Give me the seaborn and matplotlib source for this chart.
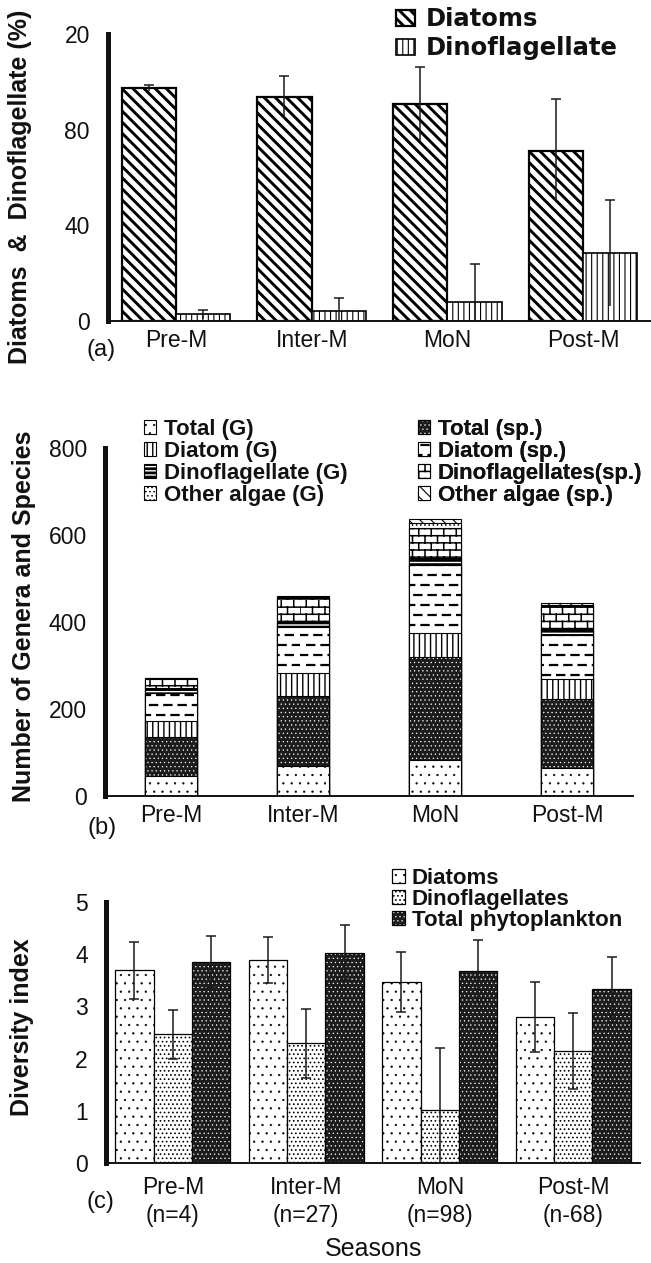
import numpy as np
import pandas as pd
import matplotlib
matplotlib.use("Agg")
import matplotlib.pyplot as plt
import matplotlib.colors as mcolors
import matplotlib.hatch as mhatch
from matplotlib.path import Path
from matplotlib.patches import Patch
from matplotlib.font_manager import FontProperties
import seaborn as sns

# ---------------- data ----------------
seasons = ["Pre-M", "Inter-M", "MoN", "Post-M"]
season_labels_c = ["Pre-M\n(n=4)", "Inter-M\n(n=27)", "MoN\n(n=98)", "Post-M\n(n-68)"]

# (a) percentage composition
pct_groups = ["Diatoms", "Dinoflagellate"]
diatom_pct = [97.4, 93.5, 90.7, 71.2]
diatom_pct_sd = [1.4, 8.8, 15.5, 21.6]
dino_pct = [2.8, 4.3, 8.1, 28.3]
dino_pct_sd = [1.8, 5.5, 15.6, 22.1]
a_yticks = [0, 40, 80, 120]
a_yticklabels = ["0", "40", "80", "20"]

# (b) number of genera and species (stacked)
b_layers = ["Total (G)", "Total (sp.)", "Diatom (G)", "Diatom (sp.)",
            "Dinoflagellate (G)", "Dinoflagellates(sp.)", "Other algae (G)", "Other algae (sp.)"]
total_g = [46, 69, 83, 64]
total_sp = [90, 161, 237, 159]
diatom_g = [36, 53, 54, 45]
diatom_sp = [65, 106, 157, 102]
dino_g = [11, 12, 15, 14]
dino_sp = [22, 55, 70, 53]
other_g = [1, 2, 11, 3]
other_sp = [1, 2, 10, 3]
b_yticks = [0, 200, 400, 600, 800]

# (c) diversity index
div_groups = ["Diatoms", "Dinoflagellates", "Total phytoplankton"]
div_diatoms = [3.69, 3.89, 3.47, 2.79]
div_diatoms_sd = [0.55, 0.44, 0.58, 0.67]
div_dino = [2.47, 2.29, 1.02, 2.15]
div_dino_sd = [0.47, 0.66, 1.19, 0.73]
div_total = [3.85, 4.03, 3.68, 3.33]
div_total_sd = [0.50, 0.52, 0.59, 0.62]
c_yticks = [0, 1, 2, 3, 4, 5]


# ---------- custom hatch patterns: short dashes ('_') and bricks ('b') ----------
class DashHatch(mhatch.HatchPatternBase):
    def __init__(self, hatch, density):
        n = hatch.count("_")
        self.rows = 10 * n
        self.cols = 7
        self.num_vertices = self.rows * self.cols * 2

    def set_vertices_and_codes(self, vertices, codes):
        k = 0
        for r in range(self.rows):
            y = (r + 0.5) / self.rows
            off = 0.0 if r % 2 == 0 else 0.5 / self.cols
            for c in range(self.cols):
                x0 = c / self.cols + off
                vertices[k] = (x0, y)
                vertices[k + 1] = (x0 + 0.5 / self.cols, y)
                codes[k] = Path.MOVETO
                codes[k + 1] = Path.LINETO
                k += 2


class BrickHatch(mhatch.HatchPatternBase):
    def __init__(self, hatch, density):
        n = hatch.count("b")
        self.rows = 14 * n
        self.cols = 8 * n
        self.num_vertices = self.rows * 2 + self.rows * self.cols * 2

    def set_vertices_and_codes(self, vertices, codes):
        k = 0
        for r in range(self.rows):
            y0 = r / self.rows
            y1 = (r + 1) / self.rows
            vertices[k] = (0.0, y0)
            vertices[k + 1] = (1.0, y0)
            codes[k] = Path.MOVETO
            codes[k + 1] = Path.LINETO
            k += 2
            off = 0.0 if r % 2 == 0 else 0.5 / self.cols
            for c in range(self.cols):
                x = c / self.cols + off
                vertices[k] = (x, y0)
                vertices[k + 1] = (x, y1)
                codes[k] = Path.MOVETO
                codes[k + 1] = Path.LINETO
                k += 2


mhatch._hatch_types.extend([DashHatch, BrickHatch])
mhatch._validate_hatch_pattern = lambda hatch: None

# ---------------- styles ----------------
sns.set_style("white")
plt.rcParams.update({
    "font.family": ["Liberation Sans", "DejaVu Sans"],
    "text.color": "#111111",
    "axes.labelcolor": "#111111",
    "xtick.color": "#111111",
    "ytick.color": "#111111",
    "hatch.linewidth": 1.0,
})

TICK_FS = 16.5
LAB_FS = 18
bold_lab = FontProperties(family="Liberation Sans", weight="bold", size=LAB_FS)

a_styles = {
    "Diatoms": dict(fc="white", hatch="\\\\\\", hlw=2.1, lw=1.6),
    "Dinoflagellate": dict(fc="white", hatch="|||", hlw=0.8, lw=1.2),
}
b_styles = [
    dict(fc="white", hatch="..", hlw=0.4, lw=0.8),
    dict(fc="#1c1c1c", hatch="....", hc="white", hlw=0.4, lw=0.8),
    dict(fc="white", hatch="|||", hlw=1.0, lw=0.8),
    dict(fc="white", hatch="_", hlw=1.6, lw=0.8),
    dict(fc="white", hatch="----", hlw=2.0, lw=0.8),
    dict(fc="white", hatch="b", hlw=1.1, lw=0.8),
    dict(fc="white", hatch="....", hlw=0.6, lw=0.8),
    dict(fc="white", hatch="\\\\\\", hlw=0.8, lw=0.8),
]
c_styles = [
    dict(fc="white", hatch="..", hlw=0.4, lw=0.9),
    dict(fc="white", hatch="....", hlw=0.7, lw=0.9),
    dict(fc="#1c1c1c", hatch="....", hc="white", hlw=0.4, lw=0.9),
]


def apply_style(p, st):
    p.set_facecolor(st["fc"])
    p.set_edgecolor("black")
    p.set_linewidth(st.get("lw", 0.8))
    p.set_hatch(st["hatch"])
    if st.get("hc"):
        p._hatch_color = mcolors.to_rgba(st["hc"])
    if hasattr(p, "set_hatch_linewidth"):
        p.set_hatch_linewidth(st["hlw"])


def style_axes(ax, yticks, yticklabels=None, xlabels=None, xpad=6):
    for s in ("top", "right"):
        ax.spines[s].set_visible(False)
    ax.spines["left"].set_linewidth(3.6)
    ax.spines["left"].set_color("#111111")
    ax.spines["bottom"].set_linewidth(1.4)
    ax.spines["bottom"].set_color("#111111")
    ax.set_xlim(-0.5, 3.5)
    ax.set_xticks(range(4))
    ax.set_xticklabels(xlabels if xlabels is not None else seasons, fontsize=TICK_FS)
    ax.set_xticks(np.arange(-0.5, 4.0, 1.0), minor=True)
    ax.tick_params(axis="x", which="major", length=0, pad=xpad)
    ax.tick_params(axis="x", which="minor", length=5, width=1.5, direction="out")
    ax.set_yticks(yticks)
    if yticklabels is not None:
        ax.set_yticklabels(yticklabels)
    ax.tick_params(axis="y", which="major", length=9, width=1.5, direction="out",
                   pad=4, labelsize=TICK_FS)
    ax.set_xlabel("")
    ax.set_ylabel("")


def add_errorbars(ax, containers, sds, bottom_caps=True, capsize=3.6):
    for cont, sd in zip(containers, sds):
        xs = [p.get_x() + p.get_width() / 2 for p in cont]
        ys = [p.get_y() + p.get_height() for p in cont]
        eb = ax.errorbar(xs, ys, yerr=sd, fmt="none", ecolor="#1a1a1a",
                         elinewidth=1.1, capsize=capsize, capthick=1.1, zorder=5)
        if not bottom_caps:
            eb.lines[1][0].set_visible(False)


W, H = 651, 1263
fig = plt.figure(figsize=(W / 100, H / 100), dpi=100)


def frac_axes(left_px, right_px, top_px, bottom_px):
    return fig.add_axes([left_px / W, 1 - bottom_px / H,
                         (right_px - left_px) / W, (bottom_px - top_px) / H])


# ================= panel (a) =================
ax_a = frac_axes(108, 651, 34, 321)
df_a = pd.DataFrame({
    "season": seasons * 2,
    "group": [pct_groups[0]] * 4 + [pct_groups[1]] * 4,
    "value": diatom_pct + dino_pct,
})
sns.barplot(data=df_a, x="season", y="value", hue="group", order=seasons,
            hue_order=pct_groups, width=0.8, errorbar=None, legend=False,
            saturation=1, ax=ax_a)
for cont, g in zip(ax_a.containers, pct_groups):
    for p in cont:
        apply_style(p, a_styles[g])
add_errorbars(ax_a, list(ax_a.containers), [diatom_pct_sd, dino_pct_sd],
              bottom_caps=False)
ax_a.set_ylim(0, 120)
style_axes(ax_a, a_yticks, a_yticklabels)

hand_a = [Patch(label=g) for g in pct_groups]
leg_a = ax_a.legend(handles=hand_a, loc="upper left",
                    bbox_to_anchor=(396 / W, 1 - 7.5 / H), bbox_transform=fig.transFigure,
                    frameon=False, borderpad=0, borderaxespad=0,
                    handlelength=0.8, handleheight=0.6, handletextpad=0.42,
                    labelspacing=0.2,
                    prop=FontProperties(family="DejaVu Sans", weight="bold", size=17.5))
for p, g in zip(leg_a.get_patches(), pct_groups):
    apply_style(p, a_styles[g])

fig.text(20 / W, 1 - 187 / H, "Diatoms  &  Dinoflagellate (%)", rotation=90,
         ha="center", va="center", fontproperties=bold_lab)
fig.text(101 / W, 1 - 350 / H, "(a)", ha="center", va="center", fontsize=17)

# ================= panel (b) =================
ax_b = frac_axes(105, 633, 448, 796)
layer_vals = [total_g, total_sp, diatom_g, diatom_sp, dino_g, dino_sp, other_g, other_sp]
cum = np.cumsum(np.array(layer_vals, dtype=float), axis=0)
for k in range(len(b_layers) - 1, -1, -1):
    n_before = len(ax_b.patches)
    sns.barplot(x=seasons, y=cum[k], order=seasons, width=0.4, color="white",
                errorbar=None, saturation=1, ax=ax_b)
    for p in ax_b.patches[n_before:]:
        apply_style(p, b_styles[k])
ax_b.set_ylim(0, 800)
style_axes(ax_b, b_yticks)

bfont = FontProperties(family="Liberation Sans", weight="bold", size=16)
for col, idxs, xpx in [(0, [0, 2, 4, 6], 144), (1, [1, 3, 5, 7], 418)]:
    hands = [Patch(label=b_layers[i]) for i in idxs]
    leg = ax_b.legend(handles=hands, loc="upper left",
                      bbox_to_anchor=(xpx / W, 1 - 419 / H), bbox_transform=fig.transFigure,
                      frameon=False, borderpad=0, borderaxespad=0,
                      handlelength=0.56, handleheight=0.56, handletextpad=0.32,
                      labelspacing=0.04, prop=bfont)
    for p, i in zip(leg.get_patches(), idxs):
        apply_style(p, b_styles[i])
    ax_b.add_artist(leg)

fig.text(24 / W, 1 - 616 / H, "Number of Genera and Species", rotation=90,
         ha="center", va="center", fontproperties=bold_lab)
fig.text(102 / W, 1 - 828 / H, "(b)", ha="center", va="center", fontsize=17)

# ================= panel (c) =================
ax_c = frac_axes(106, 640, 902, 1163)
df_c = pd.DataFrame({
    "season": seasons * 3,
    "group": [div_groups[0]] * 4 + [div_groups[1]] * 4 + [div_groups[2]] * 4,
    "value": div_diatoms + div_dino + div_total,
})
sns.barplot(data=df_c, x="season", y="value", hue="group", order=seasons,
            hue_order=div_groups, width=0.86, errorbar=None, legend=False,
            saturation=1, ax=ax_c)
for cont, st in zip(ax_c.containers, c_styles):
    for p in cont:
        apply_style(p, st)
add_errorbars(ax_c, list(ax_c.containers), [div_diatoms_sd, div_dino_sd, div_total_sd],
              bottom_caps=True)
ax_c.set_ylim(0, 5)
style_axes(ax_c, c_yticks, xlabels=season_labels_c, xpad=9)
for t in ax_c.get_xticklabels():
    t.set_linespacing(1.3)

hand_c = [Patch(label=g) for g in div_groups]
leg_c = ax_c.legend(handles=hand_c, loc="upper left",
                    bbox_to_anchor=(392 / W, 1 - 868 / H), bbox_transform=fig.transFigure,
                    frameon=False, borderpad=0, borderaxespad=0,
                    handlelength=0.58, handleheight=0.58, handletextpad=0.3,
                    labelspacing=0.0,
                    prop=FontProperties(family="Liberation Sans", weight="bold", size=16))
for p, st in zip(leg_c.get_patches(), c_styles):
    apply_style(p, st)

fig.text(22 / W, 1 - 1027 / H, "Diversity index", rotation=90,
         ha="center", va="center", fontproperties=bold_lab)
fig.text(100 / W, 1 - 1202 / H, "(c)", ha="center", va="center", fontsize=17)
fig.text(373 / W, 1 - 1249 / H, "Seasons", ha="center", va="center", fontsize=18)

fig.savefig("out.png", dpi=100)
